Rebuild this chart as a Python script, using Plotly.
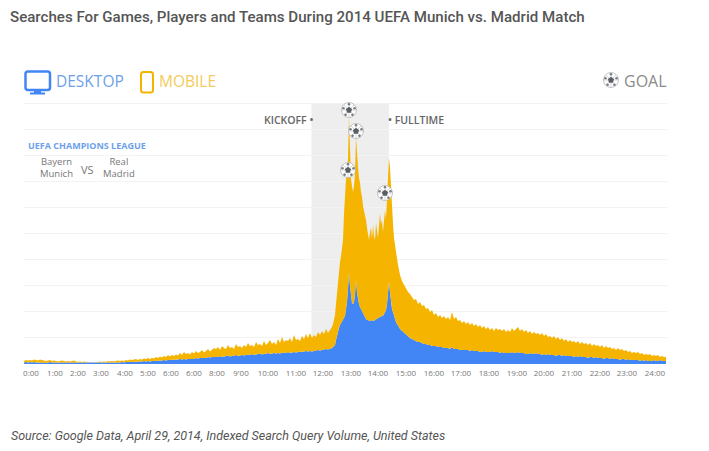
import numpy as np
import plotly.graph_objects as go

TITLE = "Searches For Games, Players and Teams During 2014 UEFA Munich vs. Madrid Match"
SOURCE = "Source: Google Data, April 29, 2014, Indexed Search Query Volume, United States"

tick_labels = ["0:00","1:00","2:00","3:00","4:00","5:00","6:00","6:00","8:00","9'00","10:00","11:00","12:00",
               "13:00","14:00","15:00","16:00","17:00","18:00","19:00","20:00","21:00","22:00","23:00","24:00"]
tick_positions = [31,55,78,101,125,148,171,194,217,241,268,296,323,351,378,406,434,461,489,517,544,572,600,627,655]
grid_levels = [0, 26.1, 52.2, 78.3, 104.4, 130.5, 156.6, 182.7, 208.8, 234.9, 261]

# sample grid of the time axis (coarse before the match, fine during it)
sample_before = list(range(24, 333, 2))
sample_match = list(range(333, 401))
sample_after = list(range(402, 668, 2))

total_before = [3,4,3.5,4,3.5,4.5,4,3.5,4.5,4,3.5,3,3.5,4,3,3.5,
                3,2.5,3,3.5,3,2.5,3,2.5,3,3.5,2.5,2,2.5,2,2.5,2,
                2,1.5,1.5,2,1.5,2,2.5,2,2.5,2,3,2.5,3,2.5,3,3.5,
                3,3.5,3,4,3.5,4.5,4,4.5,5,4,5,4.5,5.5,5,6,5,
                6,5.5,7,6,7.5,6.5,8,7,9,7.5,9,8,9.5,8.5,11,9,
                12,10,11,9.5,12,10.5,13,11,12,14,11.5,13,15,12.5,14,16,
                15,17,14,18,16,15,19,16,17,15,20,17,18,16,19,17,
                21,18,19,17,22,19,20,18,23,19,21,24,20,22,19,25,
                21,27,22,24,23,26,22,29,24,25,23,28,25,30,26,31,
                26,29,27,32,29,33,30,35,31,34,37]
desktop_before = [1.5,2,1.5,2,1.5,2,1.5,1.5,2,1.5,1.5,1,1.5,2,1.5,1.5,
                  1,1.5,1,1.5,1,1,1.5,1,1,1.5,1,1,1,1,1.5,1,
                  1,1,1,1,1,1,1.5,1,1,1.5,1,1.5,1,1.5,1.5,1.5,
                  1.5,2,1.5,2,2,2.5,2,2,2.5,2,2.5,2.5,3,2.5,3,2.5,
                  3,3,3.5,3,3.5,3.5,4,3.5,4,4,4.5,4,4.5,4.5,5,4.5,
                  5,4.5,5,5,5.5,5,6,5.5,6,6,6.5,6,7,6.5,7,7,
                  7.5,7,8,7,7.5,8,8.5,7.5,8,8.5,9,8,8.5,9,8.5,9,
                  9.5,9,10,9,9.5,10,10.5,9.5,10,10.5,11,10,10.5,11,10.5,11,
                  10.5,11.5,11,11,12,11,11.5,12,11.5,12,12.5,12,12.5,13,12.5,13,
                  12.5,13,13.5,14,13.5,14,14,15,14.5,15,16]
total_match = [40,44,49,60,72,80,92,102,108,116,124,150,172,185,190,205,247,215,185,178,172,178,190,227,205,197,
               186,181,172,167,158,154,150,144,136,130,124,132,136,125,139,128,124,141,130,126,138,151,140,144,
               132,148,154,145,167,175,206,197,175,157,140,126,118,109,104,99,94,89]
desktop_match = [17,18,19,24,29,33,36,39,41,43,44,46,48,55,62,75,92,78,65,61,60,62,70,84,72,64,
                 60,57,55,52,50,48,46,45,44,44,43,44,43,43,44,43,44,45,45,46,46,48,47,49,
                 48,50,51,54,60,69,82,72,62,55,52,48,45,42,40,39,37,35]
total_after = [83,79,75,72,70,67,64,65, 60,62,58,59,55,56,52,54, 49,51,47,49,46,48,45,47,
               44,52,45,47,43,44,41,43, 40,42,39,41,38,40,37,39, 36,38,35,37,34,36,33,36,
               34,35,33,35,32,34,32,36, 33,35,37,33,35,32,34,31, 33,30,32,30,31,29,31,28,
               30,27,28,26,28,25,27,24, 26,23,25,22,24,22,23,21, 23,20,22,20,21,19,21,18,
               20,18,19,17,19,16,18,16, 17,15,16,14,16,14,15,13, 14,12,13,11,12,11,12,10,
               11,9,10,9,10,8,9,8, 9,7,8,7,7]
desktop_after = [33,31,29,27,26,25,24,23, 22,22,21,20,20,19,19,18, 18,18,17,17,17,16,16,16,
                 15,17,15,15,15,14,14,14, 14,14,13,14,13,13,13,12, 12,13,12,12,12,13,12,12,
                 12,11,12,11,11,11,11,12, 11,11,12,11,11,11,10,10, 11,10,10,11,10,10,9,10,
                 9,10,9,9,9,8,9,9, 8,9,8,8,8,8,7,8, 7,8,7,7,7,6,7,7,
                 6,7,6,6,6,5,6,6, 5,6,5,5,5,4,5,5, 4,5,4,4,4,4,4,3,
                 4,3,4,3,3,3,4,3, 3,4,3,3,3]

goal_x = [349, 356, 348, 385, 611]
goal_y = [254, 233, 194, 171, 284]

BLUE = "#4285F4"
YELLOW = "#F5B400"
PAGE_OFFSET = 8  # default body margin of the written page
L, R, T, B = 24, 667, 60, 364
W, H = 709, 451

x = np.array(sample_before + sample_match + sample_after)
total = np.array(total_before + total_match + total_after, dtype=float)
desktop = np.array(desktop_before + desktop_match + desktop_after, dtype=float)
mobile = total - desktop


def px(v):
    return (v - L) / (R - L)


def py(v):
    return (B - v) / (B - T)


fig = go.Figure()
fig.add_trace(go.Scatter(x=x, y=desktop, name="Desktop", mode="lines", stackgroup="a",
                         line=dict(width=0, color=BLUE), fillcolor=BLUE))
fig.add_trace(go.Scatter(x=x, y=mobile, name="Mobile", mode="lines", stackgroup="a",
                         line=dict(width=0, color=YELLOW), fillcolor=YELLOW))

gx = np.array(goal_x, dtype=float)
gy = np.array(goal_y, dtype=float)
fig.add_trace(go.Scatter(x=gx, y=gy, mode="markers", cliponaxis=False,
                         marker=dict(symbol="circle", size=15, color="white",
                                     line=dict(color="#b5b5b5", width=0.8))))
fig.add_trace(go.Scatter(x=gx, y=gy, mode="markers", cliponaxis=False,
                         marker=dict(symbol="asterisk-open", size=12, color="#bcbcbc",
                                     line=dict(color="#bcbcbc", width=0.6))))
for angle in (90, 162, 234, 306, 18):
    fig.add_trace(go.Scatter(x=gx + 5.8 * np.cos(np.radians(angle)),
                             y=gy + 5.8 * np.sin(np.radians(angle)),
                             mode="markers", cliponaxis=False,
                             marker=dict(symbol="circle", size=2.6, color="#7a7f85", line=dict(width=0))))
fig.add_trace(go.Scatter(x=gx, y=gy, mode="markers", cliponaxis=False,
                         marker=dict(symbol="pentagon", size=6.5, color="#5a5f66", line=dict(width=0))))


def rounded(x0, y0, x1, y1, r):
    return (f"M{px(x0 + r)},{py(y0)} L{px(x1 - r)},{py(y0)} Q{px(x1)},{py(y0)} {px(x1)},{py(y0 + r)} "
            f"L{px(x1)},{py(y1 - r)} Q{px(x1)},{py(y1)} {px(x1 - r)},{py(y1)} "
            f"L{px(x0 + r)},{py(y1)} Q{px(x0)},{py(y1)} {px(x0)},{py(y1 - r)} "
            f"L{px(x0)},{py(y0 + r)} Q{px(x0)},{py(y0)} {px(x0 + r)},{py(y0)} Z")


shapes = [
    dict(type="rect", xref="x", yref="y", x0=311.5, x1=389, y0=0, y1=261,
         fillcolor="#EEEEEE", line=dict(width=0), layer="below"),
    dict(type="path", xref="paper", yref="paper", path=rounded(25.5, 71.5, 50, 90, 2.5),
         line=dict(color=BLUE, width=2.5)),
    dict(type="rect", xref="paper", yref="paper", x0=px(34), x1=px(41), y0=py(93), y1=py(90),
         line=dict(width=0), fillcolor=BLUE),
    dict(type="rect", xref="paper", yref="paper", x0=px(30), x1=px(45), y0=py(94.5), y1=py(92.5),
         line=dict(width=0), fillcolor=BLUE),
    dict(type="path", xref="paper", yref="paper", path=rounded(141, 72, 153, 92.5, 2.5),
         line=dict(color=YELLOW, width=2)),
]

annotations = []


def label(text, xpos, ypos, size, color, anchor="left", family="Open Sans", weight=None, style=None):
    annotations.append(dict(text=text, xref="paper", yref="paper", x=px(xpos), y=py(ypos),
                            xanchor=anchor, yanchor="middle", showarrow=False,
                            align="center" if anchor == "center" else anchor,
                            font=dict(size=size, color=color, family=family, weight=weight, style=style)))


label(TITLE, 8, 17, 15.1, "#555555", family="Roboto", weight=500)
label("DESKTOP", 54, 81, 15.5, "#6E9FEA")
label("MOBILE", 157, 81, 15.5, "#F3CB5E")
label("GOAL", 622, 81, 16, "#8A8A8A")
label("KICKOFF •", 315, 120, 10.5, "#666666", anchor="right", weight=600)
label("• FULLTIME", 386, 120, 10.5, "#666666", weight=600)
label("UEFA CHAMPIONS LEAGUE", 26, 145, 9, "#6E9FEA", weight=700)
label("Bayern<br>Munich", 56, 167, 9.5, "#777777", anchor="center")
label("VS", 87, 169, 11, "#777777", anchor="center")
label("Real<br>Madrid", 119, 167, 9.5, "#777777", anchor="center")
label(SOURCE, 9, 435, 12.5, "#555555", family="Roboto", style="italic")

fig.update_layout(
    width=W - PAGE_OFFSET, height=H - PAGE_OFFSET, autosize=False, showlegend=False, hovermode=False,
    paper_bgcolor="white", plot_bgcolor="white",
    margin=dict(l=L - PAGE_OFFSET, r=W - R, t=T - PAGE_OFFSET, b=H - B, pad=0),
    shapes=shapes, annotations=annotations,
    xaxis=dict(range=[L, R], tickmode="array", tickvals=tick_positions, ticktext=tick_labels,
               tickfont=dict(family="Open Sans", size=8, color="#777777"), ticks="", ticklen=0,
               ticklabelstandoff=3,
               showgrid=False, zeroline=False, showline=False, tickangle=0, fixedrange=True),
    yaxis=dict(range=[0, B - T], tickmode="array", tickvals=grid_levels, showticklabels=False,
               showgrid=True, gridcolor="#F3F3F3", gridwidth=1, zeroline=False, showline=False,
               fixedrange=True),
)
fig.write_html("out.html")
